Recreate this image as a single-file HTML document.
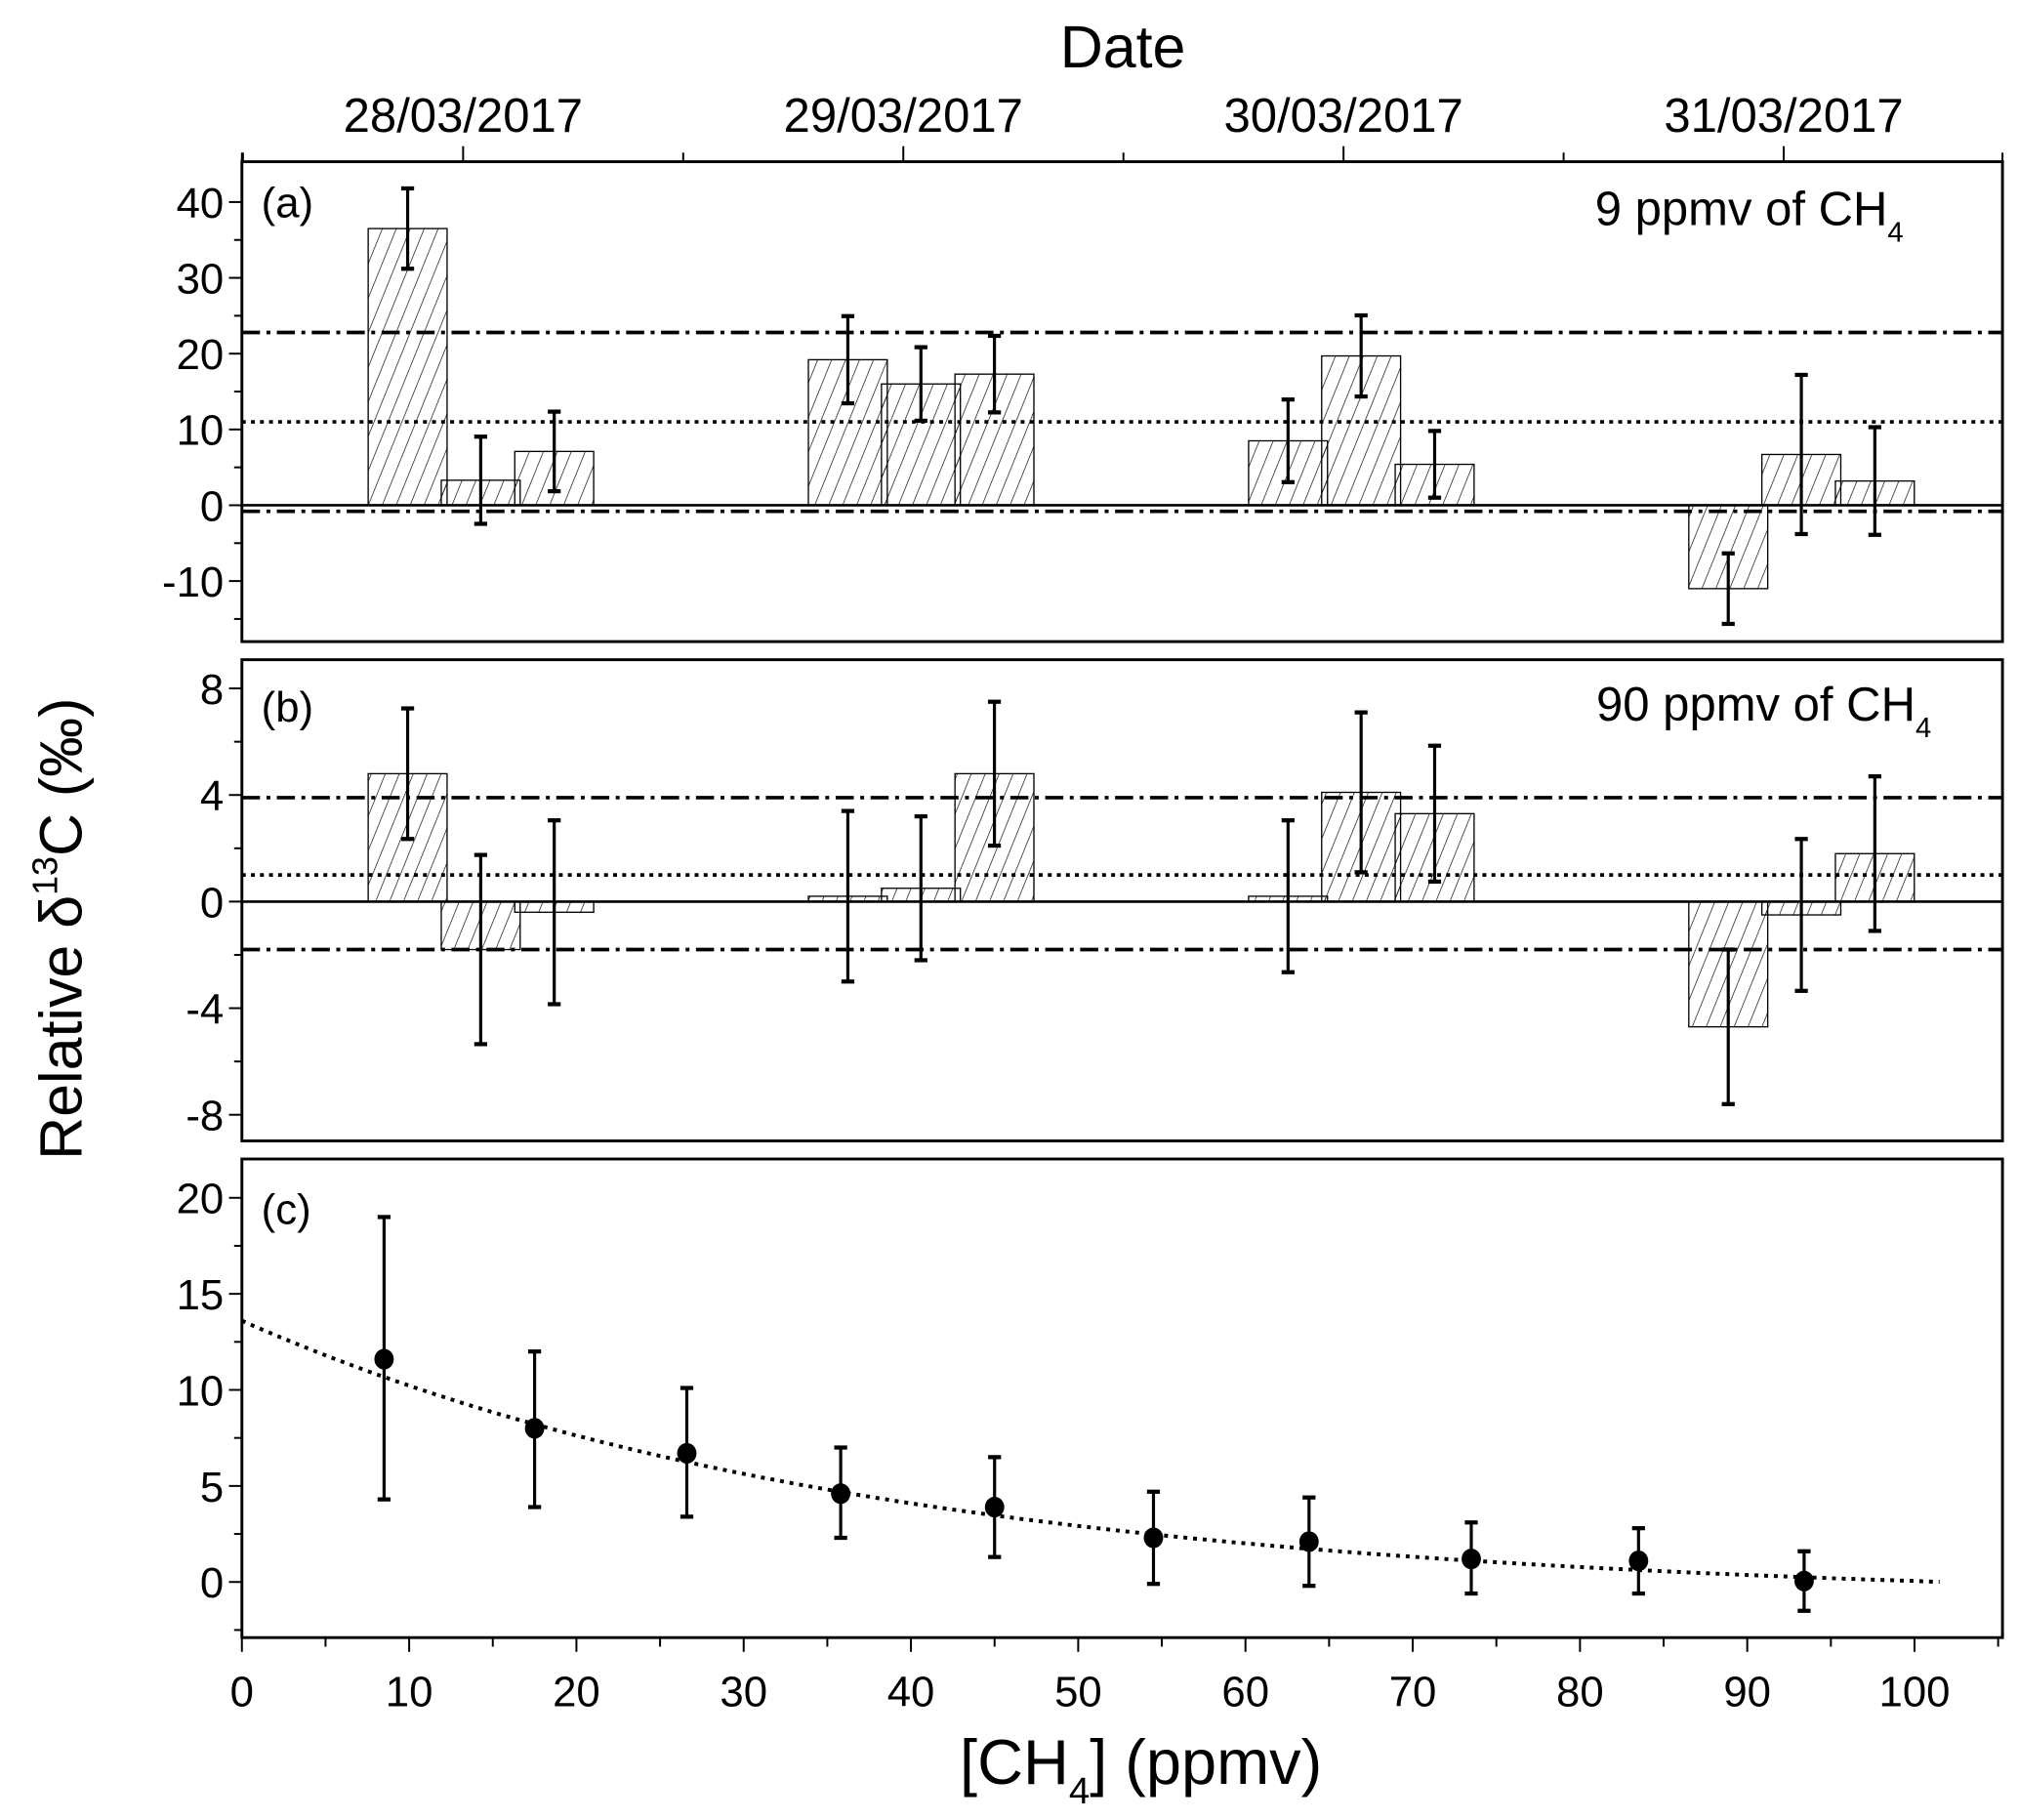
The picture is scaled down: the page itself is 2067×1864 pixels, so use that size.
<!DOCTYPE html>
<html><head><meta charset="utf-8"><style>
html,body{margin:0;padding:0;background:#fff;}
svg{display:block;font-family:"Liberation Sans",Arial,sans-serif;}
</style></head><body>
<svg id="chart" width="2067" height="1864" viewBox="0 0 1560 1407" preserveAspectRatio="none" xmlns="http://www.w3.org/2000/svg">
<defs>
<pattern id="hatch" patternUnits="userSpaceOnUse" width="10" height="10" patternTransform="rotate(22)">
<line x1="0" y1="0" x2="0" y2="10" stroke="#000" stroke-width="1"/>
</pattern>
</defs>
<g id="root"></g>
</svg>
<script>
// ---------- data ----------
const dayLabels = ["28/03/2017","29/03/2017","30/03/2017","31/03/2017"];
const barOffsets = [-0.126, 0.04, 0.207]; // fraction of a day within each date
const aValues = [36.5, 3.3, 7.1, 19.2, 16.0, 17.3, 8.5, 19.7, 5.4, -11.0, 6.7, 3.2];
const aErrors = [5.3, 5.75, 5.25, 5.75, 4.85, 5.05, 5.45, 5.35, 4.4, 4.65, 10.5, 7.1];
const aMeanLine = 11.0;
const aBandLines = [22.8, -0.8];
const bValues = [4.8, -1.8, -0.4, 0.2, 0.5, 4.8, 0.2, 4.1, 3.3, -4.7, -0.5, 1.8];
const bErrors = [2.45, 3.55, 3.45, 3.2, 2.7, 2.7, 2.85, 3.0, 2.55, 2.9, 2.85, 2.9];
const bMeanLine = 1.0;
const bBandLines = [3.9, -1.8];
const cConc = [8.5, 17.5, 26.6, 35.8, 45.0, 54.5, 63.8, 73.5, 83.5, 93.4];
const cDelta = [11.6, 8.0, 6.7, 4.6, 3.9, 2.3, 2.1, 1.2, 1.1, 0.05];
const cLow = [4.3, 3.9, 3.4, 2.3, 1.3, -0.1, -0.2, -0.6, -0.6, -1.5];
const cHigh = [19.0, 12.0, 10.1, 7.0, 6.5, 4.7, 4.4, 3.1, 2.8, 1.6];
const fitA = 14.6, fitB = 38, fitC = -1.0, fitMax = 101.5;
const aTicks = [40, 30, 20, 10, 0, -10];
const bTicks = [8, 4, 0, -4, -8];
const cTicks = [20, 15, 10, 5, 0];
const xTicks = [0,10,20,30,40,50,60,70,80,90,100];

// ---------- layout ----------
const NS = "http://www.w3.org/2000/svg";
const root = document.getElementById('root');
const L = 187, R = 1548;
function el(tag, attrs, parent, text){
  const e = document.createElementNS(NS, tag);
  for (const k in attrs) e.setAttribute(k, attrs[k]);
  if (text !== undefined) e.textContent = text;
  (parent||root).appendChild(e);
  return e;
}
const dayX = d => 358 + d * 340.3;
const panels = {
  a:{top:125,bottom:496,y0:390.6,ppu:5.86},
  b:{top:510,bottom:882,y0:697,ppu:20.6},
  c:{top:896,bottom:1266,y0:1223,ppu:14.85}
};
const yA = v => panels.a.y0 - v*panels.a.ppu;
const yB = v => panels.b.y0 - v*panels.b.ppu;
const yC = v => panels.c.y0 - v*panels.c.ppu;
const xC = v => 187 + v*12.93;

function frame(p, name){
  const r = el('rect',{x:L,y:p.top,width:R-L,height:p.bottom-p.top,fill:'none',stroke:'#000','stroke-width':2.2});
  
  
}
function yAxis(p, yfn, ticks, minorStep, name){
  const g = el('g',{});
  
  
  const lo = Math.min(...ticks)-minorStep*2, hi = Math.max(...ticks)+minorStep*2;
  for (let v = lo; v <= hi+1e-9; v += minorStep){
    const y = yfn(v);
    if (y < p.top+2 || y > p.bottom-2) continue;
    const major = ticks.some(t => Math.abs(t-v) < 1e-6);
    el('line',{x1:L-(major?10:6),x2:L,y1:y,y2:y,stroke:'#000','stroke-width':1.5},g);
    if (major){
      const t = el('text',{x:L-14,y:y+12,'text-anchor':'end','font-size':33},g,String(v));
      
      
    }
  }
}
function hline(y, dash, name){
  const l = el('line',{x1:L,x2:R,y1:y,y2:y,stroke:'#000','stroke-width':2.8,'stroke-dasharray':dash});
  
  
}
function errbar(x, y1, y2, name){
  const g = el('g',{});
  
  
  el('line',{x1:x,x2:x,y1:y1,y2:y2,stroke:'#000','stroke-width':2.4},g);
  el('line',{x1:x-5,x2:x+5,y1:y1,y2:y1,stroke:'#000','stroke-width':3.2},g);
  el('line',{x1:x-5,x2:x+5,y1:y2,y2:y2,stroke:'#000','stroke-width':3.2},g);
}
function bars(values, errors, yfn, prefix){
  const W = 61;
  values.forEach((v,i)=>{
    const d = Math.floor(i/3), k = i%3;
    const cx = dayX(d + barOffsets[k]);
    const y0 = yfn(0), yv = yfn(v);
    const r = el('rect',{x:cx-W/2,y:Math.min(y0,yv),width:W,height:Math.abs(yv-y0),fill:'url(#hatch)',stroke:'#000','stroke-width':1});
    
    
  });
  values.forEach((v,i)=>{
    const d = Math.floor(i/3), k = i%3;
    const cx = dayX(d + barOffsets[k]);
    errbar(cx, yfn(v+errors[i]), yfn(v-errors[i]), prefix+'-error-bar');
  });
}

// Titles
let t;
t = el('text',{x:868,y:52,'text-anchor':'middle','font-size':46},root,'Date');
 

// Top date axis
const topAxis = el('g',{});


for (let h = -0.5; h <= 3.5; h += 0.5){
  const x = dayX(h);
  if (x < L-1 || x > R+1) continue;
  const major = Math.abs(h-Math.round(h))<1e-6;
  el('line',{x1:x,x2:x,y1:125,y2:major?113:118,stroke:'#000','stroke-width':1.5},topAxis);
}
el('line',{x1:L,x2:L,y1:125,y2:118,stroke:'#000','stroke-width':1.5},topAxis);
el('line',{x1:R,x2:R,y1:125,y2:118,stroke:'#000','stroke-width':1.5},topAxis);
dayLabels.forEach((lab,i)=>{
  const tt = el('text',{x:dayX(i),y:102,'text-anchor':'middle','font-size':37},topAxis,lab);
  
  
});

// Panel a
yAxis(panels.a, yA, aTicks, 5, 'panel-a-y-axis');
bars(aValues, aErrors, yA, 'panel-a');
hline(yA(aBandLines[0]), '14 5 3 5', 'panel-a-upper-band');
hline(yA(aBandLines[1]), '14 5 3 5', 'panel-a-lower-band');
hline(yA(aMeanLine), '3 4', 'panel-a-mean-line');
let z = el('line',{x1:L,x2:R,y1:yA(0),y2:yA(0),stroke:'#000','stroke-width':2});
 
frame(panels.a,'panel-a-frame');
t = el('text',{x:202,y:168,'font-size':33},root,'(a)');
 
t = el('text',{x:1233,y:174,'font-size':37},root,'9 ppmv of CH');
 
el('tspan',{'font-size':22,dy:13},t,'4');

// Panel b
yAxis(panels.b, yB, bTicks, 2, 'panel-b-y-axis');
bars(bValues, bErrors, yB, 'panel-b');
hline(yB(bBandLines[0]), '14 5 3 5', 'panel-b-upper-band');
hline(yB(bBandLines[1]), '14 5 3 5', 'panel-b-lower-band');
hline(yB(bMeanLine), '3 4', 'panel-b-mean-line');
z = el('line',{x1:L,x2:R,y1:yB(0),y2:yB(0),stroke:'#000','stroke-width':2});
 
frame(panels.b,'panel-b-frame');
t = el('text',{x:202,y:558,'font-size':33},root,'(b)');
 
t = el('text',{x:1234,y:557,'font-size':37},root,'90 ppmv of CH');
 
el('tspan',{'font-size':22,dy:13},t,'4');

// Panel c
yAxis(panels.c, yC, cTicks, 2.5, 'panel-c-y-axis');
let pts = [];
for (let x = 0; x <= fitMax; x += 0.5){ pts.push(xC(x).toFixed(1)+','+yC(fitA*Math.exp(-x/fitB)+fitC).toFixed(1)); }
const fit = el('polyline',{points:pts.join(' '),fill:'none',stroke:'#000','stroke-width':3,'stroke-dasharray':'3 4.5'});
 
cConc.forEach((c,i)=>{
  errbar(xC(c), yC(cHigh[i]), yC(cLow[i]), 'panel-c-error-bar');
  const p = el('ellipse',{cx:xC(c),cy:yC(cDelta[i]),rx:7.5,ry:8,fill:'#000'});
  
  
});
frame(panels.c,'panel-c-frame');
t = el('text',{x:202,y:946,'font-size':33},root,'(c)');
 

// bottom x axis
const xAx = el('g',{});


for (let v = 0; v <= 105; v += 5){
  const x = xC(v);
  const major = v % 10 === 0;
  el('line',{x1:x,x2:x,y1:1266,y2:1266+(major?11:7),stroke:'#000','stroke-width':1.5},xAx);
}
xTicks.forEach(v=>{
  const tt = el('text',{x:xC(v),y:1319,'text-anchor':'middle','font-size':33},xAx,String(v));
  
  
});
t = el('text',{x:882,y:1379,'text-anchor':'middle','font-size':49},root,'[CH');
 
el('tspan',{'font-size':29,dy:15},t,'4');
el('tspan',{dy:-15},t,'] (ppmv)');

// y axis title
t = el('text',{x:0,y:0,'text-anchor':'middle','font-size':46,transform:'translate(63,718) rotate(-90)'},root,'Relative δ');
 
el('tspan',{'font-size':27,dy:-19},t,'13');
el('tspan',{dy:19},t,'C (‰)');
</script>
</body></html>
